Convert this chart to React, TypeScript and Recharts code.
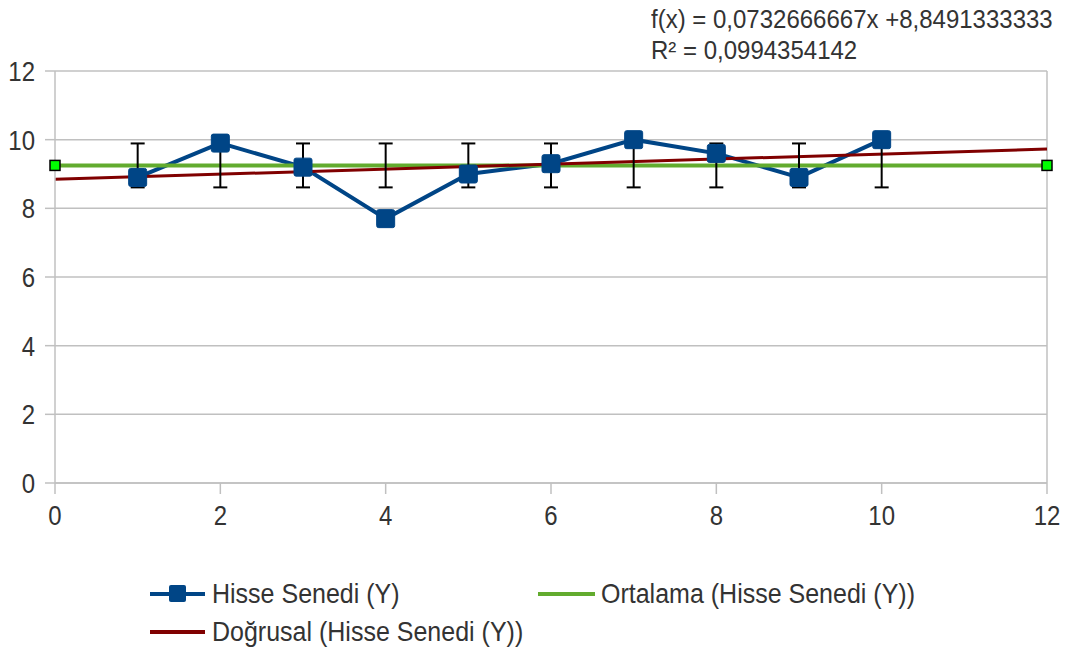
import React from 'react';
import { ComposedChart, Line, XAxis, YAxis, CartesianGrid, ReferenceLine, ErrorBar } from 'recharts';

const FONT = '"Liberation Sans", Arial, sans-serif';

// Data
const xValues = [1, 2, 3, 4, 5, 6, 7, 8, 9, 10];
const hisseSenedi = [8.9, 9.9, 9.2, 7.7, 9.0, 9.3, 10.0, 9.6, 8.9, 10.0];
const ortalamaX = [0, 12];
const ortalamaY = [9.25, 9.25];
const dogrusalX = [0, 12];
const dogrusalY = [8.849, 9.728];
const errorCenter = 9.25;
const errorSD = 0.64;
const xTicks = [0, 2, 4, 6, 8, 10, 12];
const yTicks = [0, 2, 4, 6, 8, 10, 12];
const equationText = 'f(x) = 0,0732666667x +8,8491333333';
const r2Text = 'R² = 0,0994354142';
const seriesNames = ['Hisse Senedi (Y)', 'Ortalama (Hisse Senedi (Y))', 'Doğrusal (Hisse Senedi (Y))'];

const BLUE = '#004586';
const GREEN = '#62ab2e';
const RED = '#800000';
const GRID = '#c0c0c0';
const TEXT = '#333333';

type Row = { x: number; y?: number; mean?: number; trend?: number; eb?: number; sd?: number };

const allX = Array.from(new Set([...ortalamaX, ...xValues, ...dogrusalX])).sort((a, b) => a - b);
const rows: Row[] = allX.map((x) => {
  const r: Row = { x };
  const i = xValues.indexOf(x);
  if (i >= 0) {
    r.y = hisseSenedi[i];
    r.eb = errorCenter;
    r.sd = errorSD;
  }
  const m = ortalamaX.indexOf(x);
  if (m >= 0) r.mean = ortalamaY[m];
  const t = dogrusalX.indexOf(x);
  if (t >= 0) r.trend = dogrusalY[t];
  return r;
});

const SquareDot = (props: any) => {
  const { cx, cy, value } = props;
  if (value == null || cx == null || cy == null) return null;
  const s = 18;
  return <rect x={cx - s / 2} y={cy - s / 2} width={s} height={s} rx={2} fill={BLUE} stroke={BLUE} strokeWidth={1} />;
};

const MeanDot = (props: any) => {
  const { cx, cy, value } = props;
  if (value == null || cx == null || cy == null) return null;
  const s = 10;
  return <rect x={cx - s / 2} y={cy - s / 2} width={s} height={s} fill="#00ff00" stroke="#000" strokeWidth={1.5} />;
};

const XTick = (props: any) => {
  const { x, y, payload } = props;
  return (
    <g transform={`translate(${x},${y}) scale(1,1.15)`}>
      <text x={0} y={0} dy="0.72em" textAnchor="middle" fill={TEXT} fontSize={24} fontFamily={FONT}>
        {payload.value}
      </text>
    </g>
  );
};

const YTick = (props: any) => {
  const { x, y, payload } = props;
  return (
    <g transform={`translate(${x},${y}) scale(1,1.15)`}>
      <text x={0} y={0} dy="0.36em" textAnchor="end" fill={TEXT} fontSize={24} fontFamily={FONT}>
        {payload.value}
      </text>
    </g>
  );
};

const LegendBlock = () => {
  const textStyle: React.CSSProperties = {
    position: 'absolute',
    fontFamily: FONT,
    fontSize: 25,
    color: TEXT,
    whiteSpace: 'pre',
    lineHeight: '26px',
    transform: 'scaleY(1.1)',
    transformOrigin: 'left center',
  };
  return (
    <div style={{ position: 'absolute', left: 0, top: 574, width: 1087, height: 78 }}>
      <svg width={1087} height={78} style={{ position: 'absolute', left: 0, top: 0 }}>
        <line x1={150} y1={20} x2={205} y2={20} stroke={BLUE} strokeWidth={4} />
        <rect x={169} y={11} width={17} height={17} rx={2} fill={BLUE} />
        <line x1={538} y1={20} x2={595} y2={20} stroke={GREEN} strokeWidth={4} />
        <line x1={150} y1={58} x2={205} y2={58} stroke={RED} strokeWidth={4} />
      </svg>
      <div style={{ ...textStyle, left: 212, top: 6 }}>{seriesNames[0]}</div>
      <div style={{ ...textStyle, left: 601, top: 6 }}>{seriesNames[1]}</div>
      <div style={{ ...textStyle, left: 212, top: 44 }}>{seriesNames[2]}</div>
    </div>
  );
};

export default function App() {
  return (
    <div style={{ position: 'absolute', left: 0, top: 0, width: 1087, height: 653, background: '#fff' }}>
      <ComposedChart width={1087} height={653} data={rows} margin={{ top: 71, right: 40, bottom: 140, left: 15 }}>
        <CartesianGrid vertical={false} stroke={GRID} strokeWidth={1.5} />
        <XAxis
          dataKey="x"
          type="number"
          domain={[0, 12]}
          ticks={xTicks}
          interval={0}
          height={30}
          tickSize={11}
          tickMargin={11}
          stroke={GRID}
          strokeWidth={1.5}
          tick={<XTick />}
        />
        <YAxis
          type="number"
          domain={[0, 12]}
          ticks={yTicks}
          interval={0}
          width={40}
          tickSize={10}
          tickMargin={10}
          stroke={GRID}
          strokeWidth={1.5}
          tick={<YTick />}
        />
        <ReferenceLine x={12} stroke={GRID} strokeWidth={1.5} />
        <Line
          dataKey="y"
          type="linear"
          stroke={BLUE}
          strokeWidth={4}
          dot={<SquareDot />}
          activeDot={false}
          isAnimationActive={false}
          connectNulls
        />
        <Line
          dataKey="mean"
          type="linear"
          stroke={GREEN}
          strokeWidth={4}
          dot={<MeanDot />}
          activeDot={false}
          isAnimationActive={false}
          connectNulls
        />
        <Line
          dataKey="trend"
          type="linear"
          stroke={RED}
          strokeWidth={3}
          dot={false}
          activeDot={false}
          isAnimationActive={false}
          connectNulls
        />
        <Line
          dataKey="eb"
          type="linear"
          stroke="transparent"
          strokeWidth={0}
          dot={false}
          activeDot={false}
          legendType="none"
          isAnimationActive={false}
        >
          <ErrorBar dataKey="sd" width={7} stroke="#000" strokeWidth={2} direction="y" />
        </Line>
      </ComposedChart>
      <LegendBlock />
      <div
        style={{
          position: 'absolute',
          left: 651,
          top: 3,
          fontFamily: FONT,
          fontSize: 24,
          lineHeight: '29px',
          color: TEXT,
          whiteSpace: 'pre',
          transform: 'scaleY(1.08)',
          transformOrigin: 'left top',
        }}
      >
        {equationText}
        {'\n'}
        {r2Text}
      </div>
    </div>
  );
}
